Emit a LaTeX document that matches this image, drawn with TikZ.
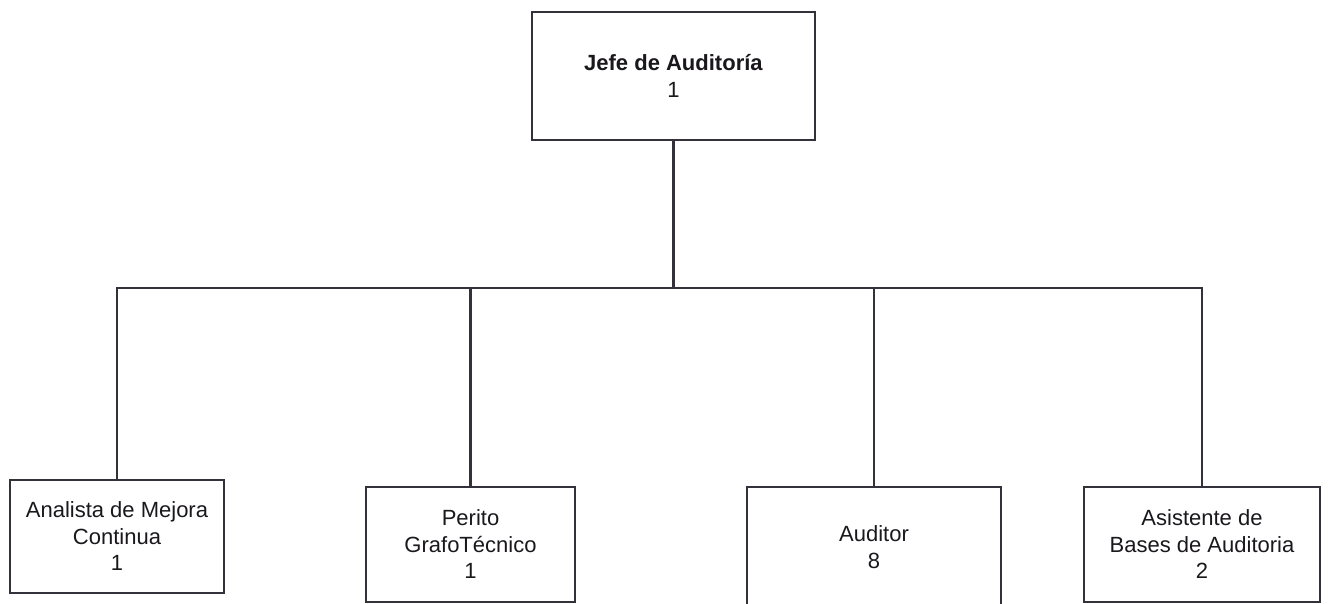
\documentclass[tikz,border=0pt]{standalone}
\usepackage{fontspec}
\setmainfont{Liberation Sans}
\definecolor{edge}{HTML}{35313A}
\definecolor{ink}{HTML}{1A181C}
\begin{document}
\begin{tikzpicture}[x=1pt,y=-1pt,
  unit/.style={draw=edge, line width=2.6pt, fill=white, rectangle,
    align=center, text=ink, inner sep=0pt,
    font=\fontsize{22}{26.5}\selectfont},
  link/.style={draw=edge, line width=2.4pt}]
  \useasboundingbox[fill=white] (0,0) rectangle (1331,604);

  % head of the unit
  \node[unit, minimum width=283pt, minimum height=128pt] (jefe) at (673.5,76)
    {\textbf{Jefe de Auditoría}\\1};

  % staff positions
  \node[unit, minimum width=214pt, minimum height=113pt] (analista) at (117,536.5)
    {Analista de Mejora\\Continua\\1};
  \node[unit, minimum width=209pt, minimum height=115pt] (perito) at (470.5,544.5)
    {Perito\\GrafoTécnico\\1};
  \node[unit, minimum width=254pt, minimum height=120pt] (auditor) at (874,547)
    {Auditor\\8};
  \node[unit, minimum width=236pt, minimum height=115pt] (asistente) at (1202,544.5)
    {Asistente de\\Bases de Auditoria\\2};

  % reporting lines
  \coordinate (bus) at (673.5,288);
  \draw[link] (jefe.south) -- (bus);
  \draw[link] (analista.north) |- (bus) -| (asistente.north);
  \draw[link] (perito.north) -- (perito.north |- bus);
  \draw[link] (auditor.north) -- (auditor.north |- bus);
\end{tikzpicture}
\end{document}
